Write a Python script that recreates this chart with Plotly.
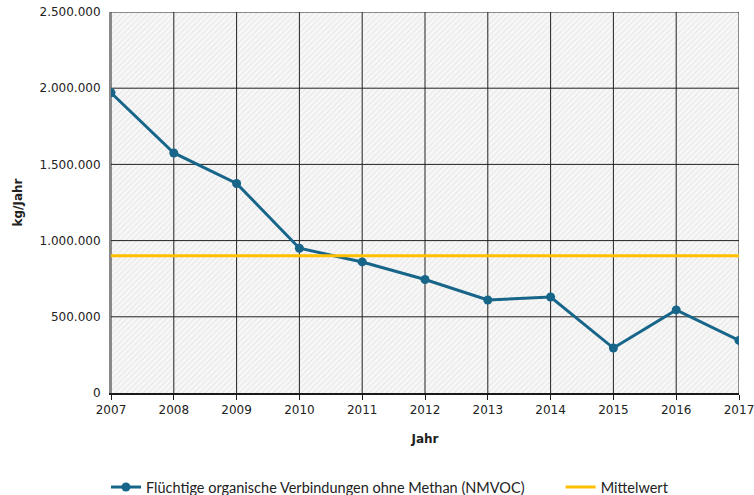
import plotly.graph_objects as go

# NMVOC emissions per year (kg/Jahr)
years = [2007, 2008, 2009, 2010, 2011, 2012, 2013, 2014, 2015, 2016, 2017]
nmvoc = [1970000, 1575000, 1375000, 950000, 860000, 745000, 610000, 630000, 295000, 545000, 345000]
y_ticks = [0, 500000, 1000000, 1500000, 2000000, 2500000]

series_name = "Flüchtige organische Verbindungen ohne Methan (NMVOC)"
mean_name = "Mittelwert"
mean_value = sum(nmvoc) / len(nmvoc)

x_min, x_max = years[0], years[-1]
y_max = y_ticks[-1]

fig = go.Figure()

# hatched plot background
fig.add_trace(go.Scatter(
    x=[x_min, x_max, x_max, x_min, x_min],
    y=[0, 0, y_max, y_max, 0],
    mode="none", fill="toself", fillcolor="rgba(255,255,255,1)",
    fillpattern=dict(shape="/", fgcolor="#dadada", bgcolor="#f8f8f8", size=4, solidity=0.35),
    showlegend=False, hoverinfo="skip",
))

# grid drawn as a trace so it sits above the hatched fill
gx, gy = [], []
for yr in years:
    gx += [yr, yr, None]
    gy += [0, y_max, None]
for t in y_ticks[1:]:
    gx += [x_min, x_max, None]
    gy += [t, t, None]
fig.add_trace(go.Scatter(
    x=gx, y=gy, mode="lines", line=dict(color="#222222", width=1),
    showlegend=False, hoverinfo="skip",
))

fig.add_trace(go.Scatter(
    x=years, y=nmvoc, name=series_name, mode="lines+markers",
    line=dict(color="#17668A", width=3),
    marker=dict(color="#17668A", size=9),
    legend="legend",
))

fig.add_trace(go.Scatter(
    x=[x_min, x_max], y=[mean_value, mean_value], name=mean_name, mode="lines",
    line=dict(color="#FFC000", width=3),
    legend="legend2",
))

legend_font = dict(family="Lato", size=14.5, color="#222")
fig.update_layout(
    width=754, height=495,
    margin=dict(l=111, r=15, t=12, b=102, autoexpand=False),
    paper_bgcolor="white", plot_bgcolor="white",
    separators=",.",
    font=dict(family="DejaVu Sans", size=12, color="#222"),
    legend=dict(
        orientation="h", x=-0.008, xanchor="left", y=-0.247, yanchor="middle",
        font=legend_font, itemwidth=30, bgcolor="rgba(0,0,0,0)",
    ),
    legend2=dict(
        orientation="h", x=0.716, xanchor="left", y=-0.247, yanchor="middle",
        font=legend_font, itemwidth=30, bgcolor="rgba(0,0,0,0)",
    ),
)

fig.update_xaxes(
    range=[x_min, x_max], tickmode="array", tickvals=years,
    showgrid=False, ticklabeloverflow="allow",
    showline=True, linecolor="#1a1a1a", linewidth=2, mirror=False,
    ticks="outside", ticklen=5, tickcolor="#1a1a1a", tickwidth=1,
    title=dict(text="<b>Jahr</b>", font=dict(family="DejaVu Sans", size=12), standoff=18),
    zeroline=False,
)
fig.update_yaxes(
    range=[0, y_max], tickmode="array", tickvals=y_ticks, tickformat=",d",
    showgrid=False, ticklabelstandoff=6,
    showline=True, linecolor="#888", linewidth=2,
    ticks="", zeroline=False,
    title=dict(text="<b>kg/Jahr</b>", font=dict(family="DejaVu Sans", size=12), standoff=14),
)

fig.write_html("out.html")
